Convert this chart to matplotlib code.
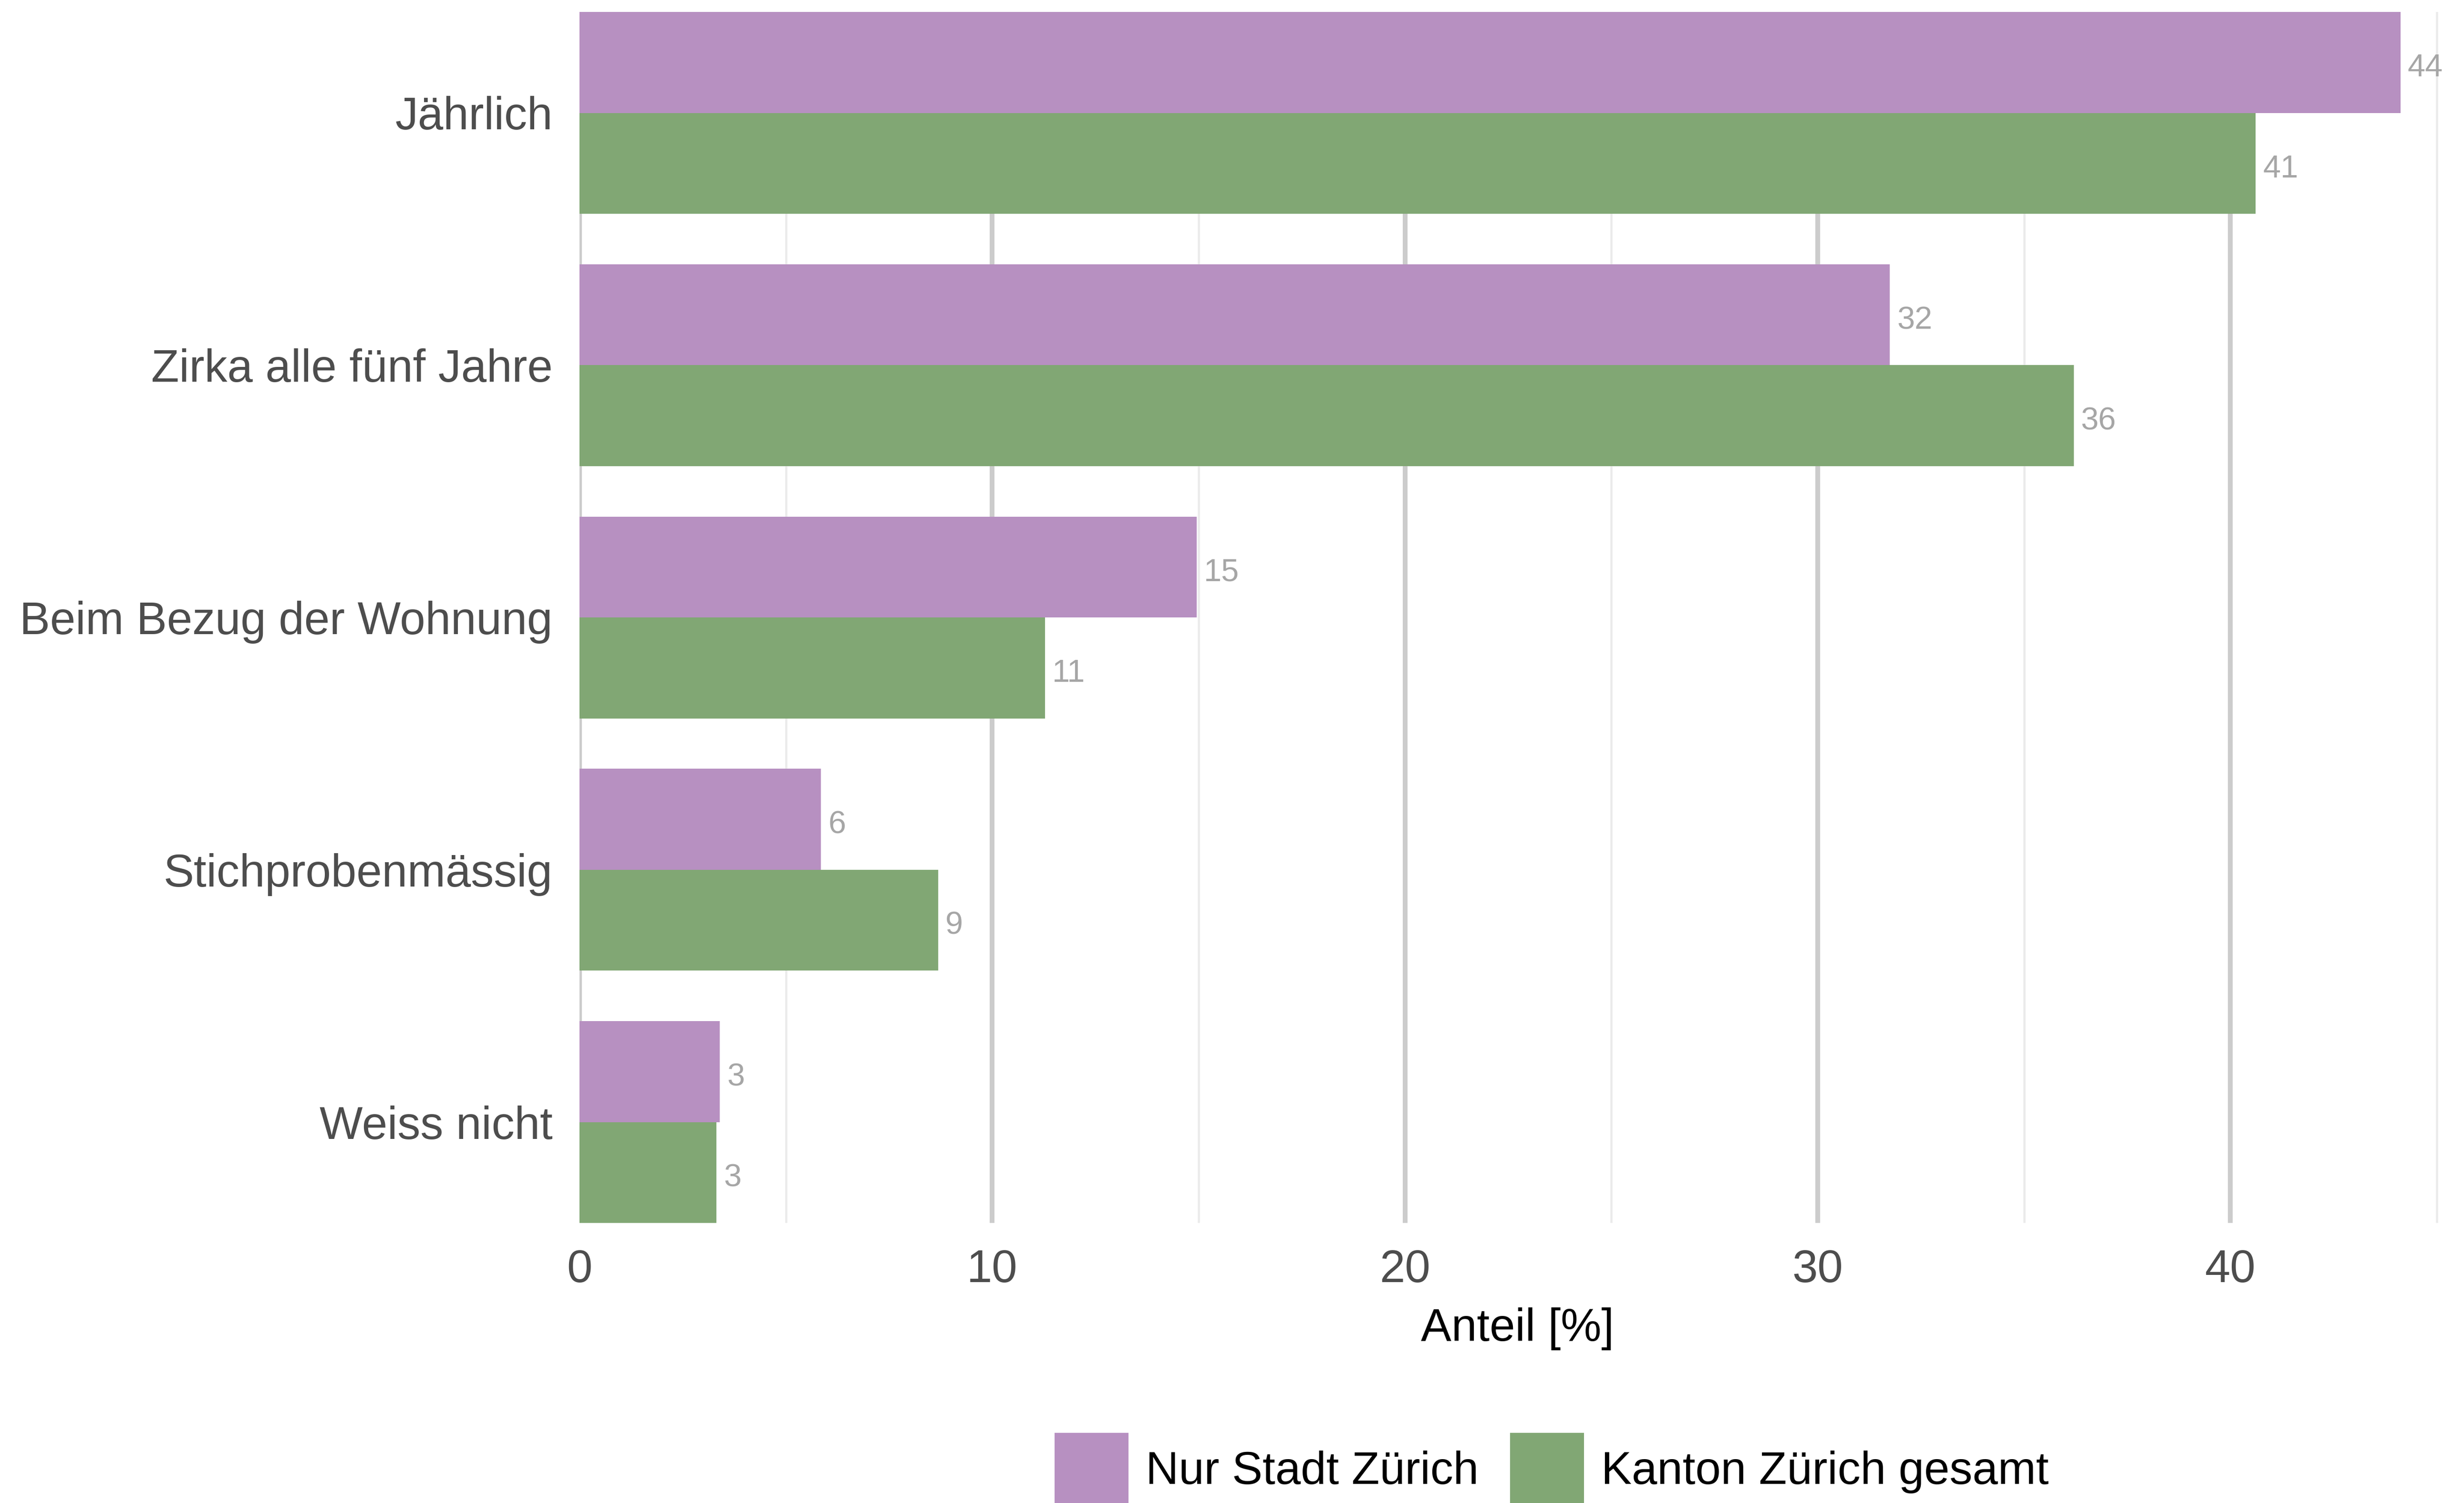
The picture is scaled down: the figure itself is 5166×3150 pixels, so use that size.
import numpy as np
import matplotlib
matplotlib.use("Agg")
import matplotlib.pyplot as plt

plt.rcParams["font.family"] = ["Liberation Sans", "DejaVu Sans"]

# Survey answers: how often the heating/ancillary costs are checked
categories = ["Jährlich", "Zirka alle fünf Jahre", "Beim Bezug der Wohnung",
              "Stichprobenmässig", "Weiss nicht"]
series_names = ["Nur Stadt Zürich", "Kanton Zürich gesamt"]
stadt = [44.12, 31.75, 14.95, 5.85, 3.40]
kanton = [40.61, 36.20, 11.28, 8.69, 3.32]
x_ticks = [0, 10, 20, 30, 40]
x_title = "Anteil [%]"

colors = ["#B790C1", "#81A774"]
label_color = "#A6A6A6"
text_dark = "#4D4D4D"

W, H, DPI = 5166, 3150, 300
fig = plt.figure(figsize=(W / DPI, H / DPI), dpi=DPI)
left, right = 1215 / W, 5148 / W
top, bottom = 1 - 25 / H, 1 - 2563 / H
ax = fig.add_axes([left, bottom, right - left, top - bottom])

pos = np.arange(len(categories))
bw = 0.4
bars = []
for i, (vals, name) in enumerate(zip([stadt, kanton], series_names)):
    offs = -bw / 2 if i == 0 else bw / 2
    b = ax.barh(pos + offs, vals, height=bw, color=colors[i], label=name,
                zorder=3, linewidth=0)
    bars.append(b)
    for y, v in zip(pos + offs, vals):
        ax.annotate(f"{v:.0f}", xy=(v, y), xytext=(3.6, -3.0),
                    textcoords="offset points", ha="left", va="center",
                    fontsize=16, color=label_color, zorder=4)

ax.set_xlim(0, 45.45)
ax.set_ylim(len(categories) - 1 + 0.4, -0.4)

# grid: major every 10, minor every 5
for v in np.arange(0, 46, 5):
    if v % 10 == 0:
        ax.axvline(v, color="#CCCCCC", lw=2.4, zorder=1)
    else:
        ax.axvline(v, color="#EBEBEB", lw=1.1, zorder=1)

ax.set_xticks(x_ticks)
ax.set_xticklabels([str(t) for t in x_ticks])
ax.set_yticks(pos)
ax.set_yticklabels(categories)
ax.tick_params(axis="both", length=0, labelsize=23, colors=text_dark)
ax.tick_params(axis="y", pad=13.5)
ax.tick_params(axis="x", pad=13)
ax.set_xlabel(x_title, fontsize=23, color="black", labelpad=8)
for s in ax.spines.values():
    s.set_visible(False)
ax.set_facecolor("white")

leg = fig.legend(handles=bars, labels=series_names, loc="center",
                 bbox_to_anchor=(3253 / W, 1 - 3080 / H), ncol=2,
                 frameon=False, fontsize=23, handlelength=1.62,
                 handleheight=2.11, handletextpad=0.37, columnspacing=0.69,
                 borderpad=0, borderaxespad=0)
for t in leg.get_texts():
    t.set_color("black")

fig.savefig("out.png", dpi=DPI, facecolor="white")
